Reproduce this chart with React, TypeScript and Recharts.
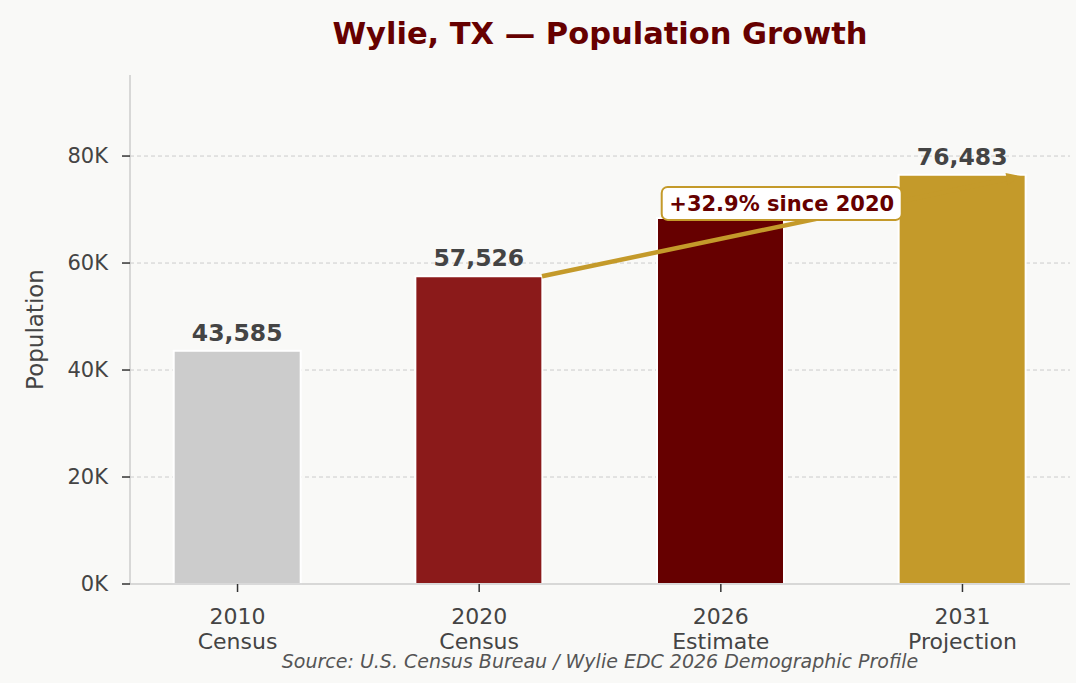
import React from 'react';
import { ComposedChart, Bar, XAxis, YAxis, CartesianGrid, Cell, LabelList, ReferenceLine, ReferenceDot } from 'recharts';

const years = ['2010', '2020', '2026', '2031'];
const kinds = ['Census', 'Census', 'Estimate', 'Projection'];
const population = [43585, 57526, 68400, 76483];
const showLabel = [true, true, false, true];
const colors = ['#cccccc', '#8b1a1a', '#660000', '#c49a2a'];
const yTicks = [0, 20000, 40000, 60000, 80000];
const Y_MAX = 95150;
const growthText = '+32.9% since 2020';

const data = years.map((y, i) => ({ x: i, year: y, kind: kinds[i], value: population[i], show: showLabel[i] }));

const FONT = 'DejaVu Sans, sans-serif';

const XTick = (props: any) => {
  const { x, y, payload } = props;
  const i = payload.value;
  if (i < 0 || i > 3 || Math.round(i) !== i) return null;
  return (
    <g>
      <text x={x} y={y + 30} textAnchor="middle" fontFamily={FONT} fontSize={22} fill="#444">{years[i]}</text>
      <text x={x} y={y + 55} textAnchor="middle" fontFamily={FONT} fontSize={22} fill="#444">{kinds[i]}</text>
    </g>
  );
};

const ValueLabel = (props: any) => {
  const { x, y, width, index } = props;
  if (!showLabel[index]) return null;
  return (
    <text x={x + width / 2} y={y - 10} textAnchor="middle" fontFamily={FONT} fontWeight="bold" fontSize={23.5} fill="#444">
      {population[index].toLocaleString('en-US')}
    </text>
  );
};

const ArrowShape = (props: any) => {
  const { x1, y1, x2, y2 } = props;
  if ([x1, y1, x2, y2].some((v) => v === undefined || isNaN(v))) return null;
  const ang = Math.atan2(y2 - y1, x2 - x1);
  const L = 14, W = 6;
  const bx = x2 - L * Math.cos(ang), by = y2 - L * Math.sin(ang);
  const px = -Math.sin(ang) * W, py = Math.cos(ang) * W;
  return (
    <g>
      <line x1={x1} y1={y1} x2={bx} y2={by} stroke="#c49a2a" strokeWidth={4.5} />
      <polygon points={`${x2},${y2} ${bx + px},${by + py} ${bx - px},${by - py}`} fill="#c49a2a" />
    </g>
  );
};

const BoxShape = (props: any) => {
  const { cx, cy } = props;
  if (cx === undefined || cy === undefined) return null;
  const w = 240, h = 33;
  return (
    <g>
      <rect x={cx - w / 2} y={cy - h / 2} width={w} height={h} rx={6} ry={6} fill="#ffffff" stroke="#c49a2a" strokeWidth={2} />
      <text x={cx} y={cy + 7.5} textAnchor="middle" fontFamily={FONT} fontWeight="bold" fontSize={21} fill="#660000">{growthText}</text>
    </g>
  );
};

export default function App() {
  return (
    <div style={{ position: 'absolute', left: 0, top: 0, width: 1076, height: 683, background: '#f9f9f7', fontFamily: FONT }}>
      <div style={{ position: 'absolute', left: 130, width: 940, top: 15, textAlign: 'center', fontSize: 30.5, lineHeight: '38px', fontWeight: 'bold', color: '#660000', fontFamily: FONT }}>
        Wylie, TX — Population Growth
      </div>
      <ComposedChart width={1076} height={683} data={data} margin={{ top: 75, right: 6, bottom: 0, left: 0 }}>
        <CartesianGrid
          vertical={false}
          stroke="#cccccc"
          strokeDasharray="4 3"
          horizontalCoordinatesGenerator={({ offset }: any) =>
            yTicks.slice(1).map((t) => offset.top + offset.height * (1 - t / Y_MAX))
          }
        />
        <XAxis
          dataKey="x"
          type="number"
          domain={[-0.445, 3.445]}
          ticks={[0, 1, 2, 3]}
          tick={<XTick />}
          tickSize={8}
          height={99}
          axisLine={{ stroke: '#cccccc', strokeWidth: 1.5 }}
          tickLine={{ stroke: '#333', strokeWidth: 1.5 }}
          allowDataOverflow
        />
        <YAxis
          width={130}
          domain={[0, Y_MAX]}
          ticks={yTicks}
          tickFormatter={(v: number) => `${v / 1000}K`}
          tick={{ fontFamily: FONT, fontSize: 21, fill: '#444' }}
          tickSize={8}
          tickMargin={14}
          axisLine={{ stroke: '#cccccc', strokeWidth: 1.5 }}
          tickLine={{ stroke: '#333', strokeWidth: 1.5 }}
          label={{ value: 'Population', angle: -90, position: 'insideLeft', offset: 35, style: { fontFamily: FONT, fontSize: 23, fill: '#444', textAnchor: 'middle' } }}
        />
        <Bar dataKey="value" barSize={127} stroke="#ffffff" strokeWidth={2} isAnimationActive={false}>
          {data.map((d, i) => (
            <Cell key={i} fill={colors[i]} />
          ))}
          <LabelList dataKey="value" content={<ValueLabel />} />
        </Bar>
        <ReferenceLine
          segment={[{ x: 1.26, y: 57526 }, { x: 3.24, y: 76250 }]}
          shape={<ArrowShape />}
          ifOverflow="visible"
        />
        <ReferenceDot x={2.252} y={71150} shape={<BoxShape />} ifOverflow="visible" />
      </ComposedChart>
      <div style={{ position: 'absolute', left: 0, width: 1200, top: 649, textAlign: 'center', fontSize: 19, lineHeight: '24px', fontStyle: 'italic', color: '#555', fontFamily: FONT }}>
        Source: U.S. Census Bureau / Wylie EDC 2026 Demographic Profile
      </div>
    </div>
  );
}
